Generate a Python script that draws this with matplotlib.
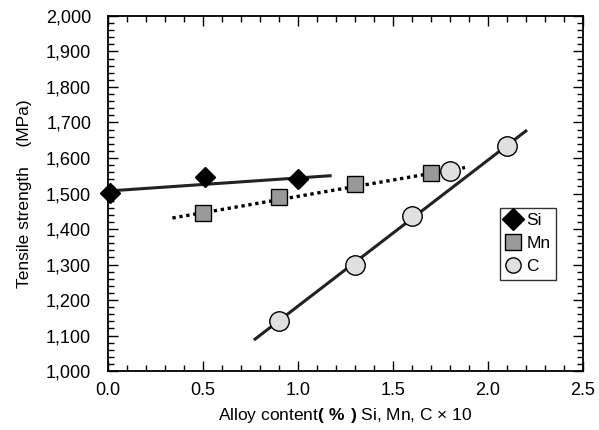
import matplotlib.pyplot as plt
from matplotlib.ticker import MultipleLocator, FuncFormatter

plt.rcParams['font.family'] = ['Liberation Sans', 'DejaVu Sans']
plt.rcParams['mathtext.fontset'] = 'custom'
plt.rcParams['mathtext.rm'] = 'Liberation Sans'
plt.rcParams['mathtext.bf'] = 'Liberation Sans:bold'

# measured points
si_x = [0.01, 0.51, 1.0]
si_y = [1501, 1546, 1542]
mn_x = [0.50, 0.90, 1.30, 1.70]
mn_y = [1446, 1490, 1527, 1557]
c_x = [0.90, 1.30, 1.60, 1.80, 2.10]
c_y = [1141, 1299, 1437, 1563, 1634]

# fitted lines (end points)
si_fit_x = [0.0, 1.17]
si_fit_y = [1507, 1550]
mn_fit_x = [0.34, 1.88]
mn_fit_y = [1431, 1573]
c_fit_x = [0.775, 2.2]
c_fit_y = [1090, 1676]

fig = plt.figure(figsize=(5.99, 4.30), dpi=100)
ax = fig.add_axes([0.180, 0.137, 0.793, 0.826])

ax.plot(si_fit_x, si_fit_y, color='#222222', lw=2.2, zorder=2)
ax.plot(mn_fit_x, mn_fit_y, color='black', lw=2.4, ls=(0, (1, 1.1)), zorder=2)
ax.plot(c_fit_x, c_fit_y, color='#222222', lw=2.2, zorder=2)

ax.plot(si_x, si_y, ls='none', marker='D', ms=10, mfc='black', mec='black',
        label='Si', zorder=3, clip_on=False)
ax.plot(mn_x, mn_y, ls='none', marker='s', ms=12, mfc='#999999', mec='black',
        mew=1.0, label='Mn', zorder=3)
ax.plot(c_x, c_y, ls='none', marker='o', ms=14, mfc='#e0e0e0', mec='black',
        mew=1.0, label='C', zorder=3)

ax.set_xlim(0, 2.5)
ax.set_ylim(1000, 2000)
ax.xaxis.set_major_locator(MultipleLocator(0.5))
ax.xaxis.set_minor_locator(MultipleLocator(0.1))
ax.yaxis.set_major_locator(MultipleLocator(100))
ax.yaxis.set_minor_locator(MultipleLocator(20))
ax.xaxis.set_major_formatter(FuncFormatter(lambda v, p: f'{v:.1f}'))
ax.yaxis.set_major_formatter(FuncFormatter(lambda v, p: f'{v:,.0f}'))

ax.tick_params(which='both', direction='in', top=True, right=True,
               labelsize=13, width=1.0, color='black')
ax.tick_params(which='major', length=7)
ax.tick_params(axis='y', which='major', pad=12)
ax.tick_params(axis='x', which='major', pad=8)
ax.tick_params(which='minor', length=4)
for s in ax.spines.values():
    s.set_linewidth(1.3)

ax.set_xlabel(r'Alloy content$\mathbf{(\ \%\ )}$ Si, Mn, C × 10', fontsize=12.5,
              labelpad=5)
ax.set_ylabel('Tensile strength    (MPa)', fontsize=12.5, labelpad=10)

leg = ax.legend(loc='upper left', bbox_to_anchor=(0.825, 0.459), frameon=True,
                fancybox=False, edgecolor='black', fontsize=12.5,
                handlelength=0.9, handletextpad=0.35, borderpad=0.3,
                labelspacing=0.45, borderaxespad=0)
leg.get_frame().set_linewidth(1.0)
for h in leg.legend_handles:
    h.set_markersize(11)

fig.savefig('out.png', dpi=100)
